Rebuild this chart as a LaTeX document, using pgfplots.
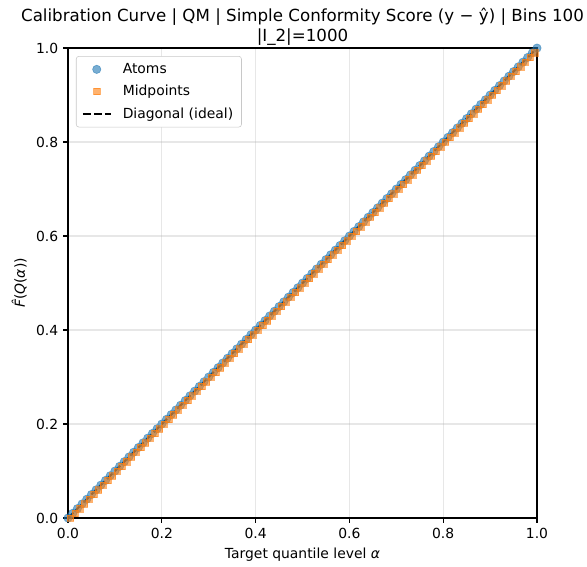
\documentclass[border=0pt]{standalone}
\usepackage{pgfplots}
\pgfplotsset{compat=1.18}
\usepackage{fontspec}
\setmainfont{DejaVu Sans}
\definecolor{atomc}{HTML}{1F77B4}
\definecolor{midc}{HTML}{FF7F0E}
\definecolor{gridc}{HTML}{B0B0B0}
\pgfplotsset{
  markleg/.style={legend image code/.code={\draw[##1] plot coordinates {(10pt,0pt)};}},
  lineleg/.style={legend image code/.code={\draw[##1] (0pt,0pt) -- (20pt,0pt);}},
}
\begin{document}
\begin{tikzpicture}
\begin{axis}[
  scale only axis,
  width=337.7pt, height=338.4pt,
  xmin=0, xmax=1, ymin=0, ymax=1,
  xtick={0,0.2,0.4,0.6,0.8,1.0},
  ytick={0,0.2,0.4,0.6,0.8,1.0},
  xticklabel style={/pgf/number format/.cd,fixed,fixed zerofill,precision=1},
  yticklabel style={/pgf/number format/.cd,fixed,fixed zerofill,precision=1},
  /pgf/number format/assume math mode=true,
  tick label style={font=\fontsize{10}{12}\selectfont},
  label style={font=\fontsize{10}{12}\selectfont},
  tick align=outside,
  tick pos=left,
  major tick length=3.5pt,
  every tick/.style={black, line width=0.8pt},
  axis line style={line width=0.8pt},
  grid=major,
  grid style={gridc, opacity=0.3, line width=0.8pt},
  xlabel={Target quantile level \textit{α}},
  ylabel={\textit{F̂}(\textit{Q}(\textit{α}))},
  title={Calibration Curve | QM | Simple Conformity Score (y − ŷ) | Bins 100\\|I\_2|=1000},
  title style={align=center, font=\fontsize{12}{14}\selectfont, yshift=-7.3pt},
  legend style={at={(0.017,0.983)}, anchor=north west, draw=gridc!70, rounded corners=2pt,
    font=\fontsize{10}{12}\selectfont, row sep=3pt, inner xsep=4pt, inner ysep=3pt,
    /tikz/every odd column/.append style={column sep=6pt}},
  legend cell align=left,
  clip=false,
]
\addplot[only marks, mark=*, mark size=3pt, mark options={fill=atomc, draw=atomc, fill opacity=0.6, draw opacity=0.6}, markleg] coordinates {
(0,0)(0.01,0.01)(0.02,0.02)(0.03,0.03)(0.04,0.04)(0.05,0.05)(0.06,0.06)(0.07,0.07)(0.08,0.08)(0.09,0.09)
(0.10,0.10)(0.11,0.11)(0.12,0.12)(0.13,0.13)(0.14,0.14)(0.15,0.15)(0.16,0.16)(0.17,0.17)(0.18,0.18)(0.19,0.19)
(0.20,0.20)(0.21,0.21)(0.22,0.22)(0.23,0.23)(0.24,0.24)(0.25,0.25)(0.26,0.26)(0.27,0.27)(0.28,0.28)(0.29,0.29)
(0.30,0.30)(0.31,0.31)(0.32,0.32)(0.33,0.33)(0.34,0.34)(0.35,0.35)(0.36,0.36)(0.37,0.37)(0.38,0.38)(0.39,0.39)
(0.40,0.40)(0.41,0.41)(0.42,0.42)(0.43,0.43)(0.44,0.44)(0.45,0.45)(0.46,0.46)(0.47,0.47)(0.48,0.48)(0.49,0.49)
(0.50,0.50)(0.51,0.51)(0.52,0.52)(0.53,0.53)(0.54,0.54)(0.55,0.55)(0.56,0.56)(0.57,0.57)(0.58,0.58)(0.59,0.59)
(0.60,0.60)(0.61,0.61)(0.62,0.62)(0.63,0.63)(0.64,0.64)(0.65,0.65)(0.66,0.66)(0.67,0.67)(0.68,0.68)(0.69,0.69)
(0.70,0.70)(0.71,0.71)(0.72,0.72)(0.73,0.73)(0.74,0.74)(0.75,0.75)(0.76,0.76)(0.77,0.77)(0.78,0.78)(0.79,0.79)
(0.80,0.80)(0.81,0.81)(0.82,0.82)(0.83,0.83)(0.84,0.84)(0.85,0.85)(0.86,0.86)(0.87,0.87)(0.88,0.88)(0.89,0.89)
(0.90,0.90)(0.91,0.91)(0.92,0.92)(0.93,0.93)(0.94,0.94)(0.95,0.95)(0.96,0.96)(0.97,0.97)(0.98,0.98)(0.99,0.99)
(1.00,1.00)
};
\addlegendentry{Atoms}
\addplot[only marks, mark=square*, mark size=2.3pt, mark options={fill=midc, draw=midc, fill opacity=0.6, draw opacity=0.6}, markleg] coordinates {
(0.005,0)(0.015,0.01)(0.025,0.02)(0.035,0.03)(0.045,0.04)(0.055,0.05)(0.065,0.06)(0.075,0.07)(0.085,0.08)(0.095,0.09)
(0.105,0.10)(0.115,0.11)(0.125,0.12)(0.135,0.13)(0.145,0.14)(0.155,0.15)(0.165,0.16)(0.175,0.17)(0.185,0.18)(0.195,0.19)
(0.205,0.20)(0.215,0.21)(0.225,0.22)(0.235,0.23)(0.245,0.24)(0.255,0.25)(0.265,0.26)(0.275,0.27)(0.285,0.28)(0.295,0.29)
(0.305,0.30)(0.315,0.31)(0.325,0.32)(0.335,0.33)(0.345,0.34)(0.355,0.35)(0.365,0.36)(0.375,0.37)(0.385,0.38)(0.395,0.39)
(0.405,0.40)(0.415,0.41)(0.425,0.42)(0.435,0.43)(0.445,0.44)(0.455,0.45)(0.465,0.46)(0.475,0.47)(0.485,0.48)(0.495,0.49)
(0.505,0.50)(0.515,0.51)(0.525,0.52)(0.535,0.53)(0.545,0.54)(0.555,0.55)(0.565,0.56)(0.575,0.57)(0.585,0.58)(0.595,0.59)
(0.605,0.60)(0.615,0.61)(0.625,0.62)(0.635,0.63)(0.645,0.64)(0.655,0.65)(0.665,0.66)(0.675,0.67)(0.685,0.68)(0.695,0.69)
(0.705,0.70)(0.715,0.71)(0.725,0.72)(0.735,0.73)(0.745,0.74)(0.755,0.75)(0.765,0.76)(0.775,0.77)(0.785,0.78)(0.795,0.79)
(0.805,0.80)(0.815,0.81)(0.825,0.82)(0.835,0.83)(0.845,0.84)(0.855,0.85)(0.865,0.86)(0.875,0.87)(0.885,0.88)(0.895,0.89)
(0.905,0.90)(0.915,0.91)(0.925,0.92)(0.935,0.93)(0.945,0.94)(0.955,0.95)(0.965,0.96)(0.975,0.97)(0.985,0.98)(0.995,0.99)
};
\addlegendentry{Midpoints}
\addplot[black, line width=1.5pt, dash pattern=on 5.55pt off 2.4pt, lineleg] coordinates {(0,0)(1,1)};
\addlegendentry{Diagonal (ideal)}
\end{axis}
\pgfresetboundingbox
\path[use as bounding box] ([shift={(-48.96pt,-35.2pt)}]current axis.south west) rectangle ([shift={(36pt,34.6pt)}]current axis.north east);
\end{tikzpicture}
\end{document}
